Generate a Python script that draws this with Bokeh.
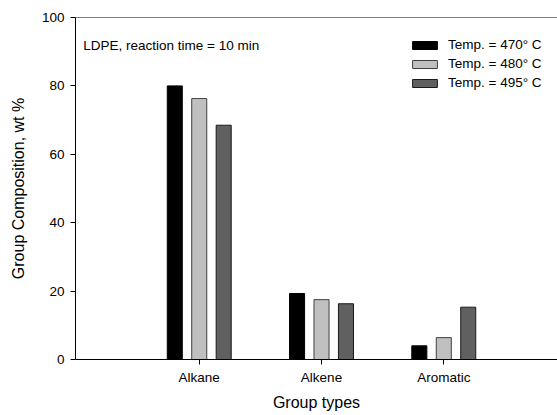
from bokeh.plotting import figure
from bokeh.models import Range1d, Span, Legend, LegendItem, Label, FixedTicker, ColumnDataSource
from bokeh.embed import file_html
from bokeh.resources import INLINE

categories = ["Alkane", "Alkene", "Aromatic"]
series_names = ["Temp. = 470° C", "Temp. = 480° C", "Temp. = 495° C"]
t470 = [80.0, 19.3, 4.0]
t480 = [76.3, 17.5, 6.4]
t495 = [68.5, 16.3, 15.3]
y_ticks = [0, 20, 40, 60, 80, 100]
note = "LDPE, reaction time = 10 min"

FONT = "Liberation Sans"

p = figure(width=557, height=415, output_backend="svg", toolbar_location=None,
           x_range=Range1d(-0.012, 3.93), y_range=Range1d(0, 100),
           min_border_left=75, min_border_right=0, min_border_top=17, min_border_bottom=56)
p.grid.visible = False
p.outline_line_color = None
p.background_fill_color = "white"
p.border_fill_color = "white"

xs = [i + 1 for i in range(len(categories))]
fills = ["#000000", "#c0c0c0", "#606060"]
lines = ["#000000", "#404040", "#1a1a1a"]
offsets = [-0.2, 0.0, 0.2]
renderers = []
for vals, off, fc, lc in zip([t470, t480, t495], offsets, fills, lines):
    src = ColumnDataSource(dict(x=[x + off for x in xs], top=vals))
    r = p.vbar(x="x", top="top", bottom=0, width=0.123, source=src,
               fill_color=fc, line_color=lc, line_width=1)
    renderers.append(r)

p.add_layout(Span(location=100, dimension="width", line_color="#000000", line_width=1))

# axes
p.xaxis.ticker = FixedTicker(ticks=xs)
p.xaxis.major_label_overrides = {x: c for x, c in zip(xs, categories)}
p.yaxis.ticker = FixedTicker(ticks=y_ticks)
for ax in (p.xaxis[0], p.yaxis[0]):
    ax.axis_line_color = "#000000"
    ax.major_tick_line_color = "#000000"
    ax.major_tick_out = 5
    ax.major_tick_in = 0
    ax.minor_tick_line_color = None
    ax.major_label_text_font = FONT
    ax.major_label_text_font_size = "13.5px"
    ax.major_label_text_color = "#000000"
    ax.axis_label_text_font = FONT
    ax.axis_label_text_font_size = "16px"
    ax.axis_label_text_font_style = "normal"
    ax.axis_label_text_color = "#000000"
p.xaxis.axis_label = "Group types"
p.yaxis.axis_label = "Group Composition, wt %"
p.xaxis.major_label_standoff = 5
p.xaxis.axis_label_standoff = 6
p.yaxis.major_label_standoff = 6
p.yaxis.axis_label_standoff = 12

p.add_layout(Label(x=7.7, y=314.2, x_units="screen", y_units="screen", text=note,
                   text_font=FONT, text_font_size="13.5px", text_color="#000000",
                   text_baseline="alphabetic"))

legend = Legend(items=[LegendItem(label=n, renderers=[r]) for n, r in zip(series_names, renderers)],
                location=(334, 267), glyph_width=31, glyph_height=10, label_height=19,
                label_standoff=8, spacing=0, padding=0, margin=0,
                border_line_color=None, background_fill_alpha=0,
                label_text_font=FONT, label_text_font_size="13.5px", label_text_color="#000000")
p.add_layout(legend)

open("out.html", "w").write(file_html(p, INLINE))
